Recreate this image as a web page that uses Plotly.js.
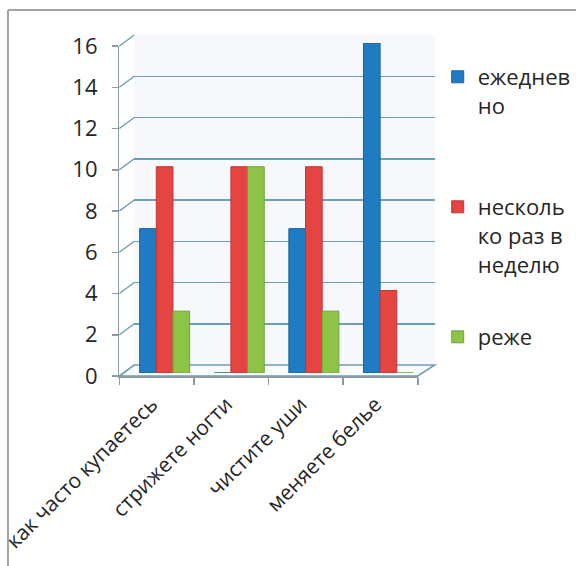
<!DOCTYPE html>
<html>
<head>
<meta charset="utf-8">
<script src="https://cdn.plot.ly/plotly-3.0.1.min.js"></script>
<style>html,body{margin:0;padding:0;background:#fff;}#chart{width:576px;height:566px;}</style>
</head>
<body>
<div id="chart"></div>
<script>
// ---- data ----
const categories = ['как часто купаетесь', 'стрижете ногти', 'чистите уши', 'меняете белье'];
const daily = [7, 0, 7, 16];
const weekly = [10, 10, 10, 4];
const rarely = [3, 10, 3, 0];
const seriesNames = ['ежеднев<br>но', 'несколь<br>ко раз в<br>неделю', 'реже'];
const yTicks = [0, 2, 4, 6, 8, 10, 12, 14, 16];

// ---- layout helpers (pixel -> paper) ----
const W = 576, H = 566;
const fx = p => p / W;
const fy = p => 1 - p / H;
const yMax = yTicks[yTicks.length - 1];

const frontX = [fx(120), fx(420)];
const frontY = [fy(376), fy(46)];
const backX = [fx(135), fx(437)];
const backY = [fy(365), fy(35)];
const barX = [fx(128), fx(428)];
const barY = [fy(373), fy(43)];

const gridColor = '#6f9db2';
const font = 'Open Sans, Noto Sans, sans-serif';
const colors = ['#1f7cc2', '#e44543', '#8dc347'];

const traces = [
  // back wall (grid only)
  {type: 'scatter', x: [], y: [], xaxis: 'x', yaxis: 'y', showlegend: false, hoverinfo: 'skip'},
  // front axes
  {type: 'scatter', x: [], y: [], xaxis: 'x2', yaxis: 'y2', showlegend: false, hoverinfo: 'skip'},
  // bars
  {type: 'bar', x: categories, y: daily, name: seriesNames[0], xaxis: 'x3', yaxis: 'y3', legend: 'legend',
   marker: {color: colors[0], line: {color: '#17659f', width: 1}}},
  {type: 'bar', x: categories, y: weekly, name: seriesNames[1], xaxis: 'x3', yaxis: 'y3', legend: 'legend2',
   marker: {color: colors[1], line: {color: '#c23533', width: 1}}},
  {type: 'bar', x: categories, y: rarely, name: seriesNames[2], xaxis: 'x3', yaxis: 'y3', legend: 'legend3',
   marker: {color: colors[2], line: {color: '#6fa535', width: 1}}}
];

const shapes = [];
// back wall
shapes.push({type: 'rect', xref: 'paper', yref: 'paper', x0: backX[0], x1: backX[1], y0: backY[0], y1: backY[1],
  fillcolor: '#f6f8fb', line: {width: 0}, layer: 'below'});
// floor
shapes.push({type: 'path', xref: 'paper', yref: 'paper',
  path: `M${frontX[0]},${frontY[0]} L${frontX[1]},${frontY[0]} L${backX[1]},${backY[0]} L${backX[0]},${backY[0]} Z`,
  fillcolor: '#fafbfc', line: {color: gridColor, width: 1.5}, layer: 'below'});
// diagonal connectors from front axis ticks to back wall gridlines
yTicks.forEach(v => {
  const yf = frontY[0] + v / yMax * (frontY[1] - frontY[0]);
  const yb = backY[0] + v / yMax * (backY[1] - backY[0]);
  shapes.push({type: 'line', xref: 'paper', yref: 'paper', x0: frontX[0], y0: yf, x1: backX[0], y1: yb,
    line: {color: gridColor, width: 1.5}, layer: 'below'});
});
// outer frame (top & left)
shapes.push({type: 'line', xref: 'paper', yref: 'paper', x0: fx(8), y0: fy(10), x1: 1.01, y1: fy(10), line: {color: '#a3a3a3', width: 2}});
shapes.push({type: 'line', xref: 'paper', yref: 'paper', x0: fx(8), y0: fy(10), x1: fx(8), y1: -0.01, line: {color: '#a3a3a3', width: 2}});

const legendBase = {xanchor: 'left', yanchor: 'top', valign: 'top', bgcolor: 'rgba(0,0,0,0)',
  font: {family: font, size: 22, color: '#262626'}};

const layout = {
  width: W, height: H,
  margin: {l: 0, r: 0, t: 0, b: 0},
  paper_bgcolor: '#ffffff', plot_bgcolor: 'rgba(0,0,0,0)',
  font: {family: font, color: '#262626'},
  barmode: 'group', bargap: 0.33, bargroupgap: 0,
  showlegend: true,
  xaxis: {domain: backX, anchor: 'y', range: [0, 1], visible: false, fixedrange: true},
  yaxis: {domain: backY, anchor: 'x', range: [0, yMax], tickvals: yTicks, showgrid: true, gridcolor: gridColor, gridwidth: 1.5,
    zeroline: false, showticklabels: false, ticks: '', showline: false, fixedrange: true},
  xaxis2: {domain: frontX, anchor: 'y2', range: [0, categories.length], tickvals: categories.map((_, i) => i).concat(categories.length),
    showticklabels: false, ticks: 'outside', ticklen: 7, tickcolor: '#8c9aa3', tickwidth: 1.5,
    showline: true, linecolor: '#8c9aa3', linewidth: 1.5, showgrid: false, zeroline: false, fixedrange: true},
  yaxis2: {domain: frontY, anchor: 'x2', range: [0, yMax], tickvals: yTicks, ticks: 'outside', ticklen: 6, tickcolor: '#8c9aa3', tickwidth: 1.5,
    showline: true, linecolor: '#8c9aa3', linewidth: 1.5, showgrid: false, zeroline: false,
    tickfont: {family: font, size: 22, color: '#262626'}, ticklabelstandoff: 10, fixedrange: true},
  xaxis3: {domain: barX, anchor: 'y3', type: 'category', categoryarray: categories, range: [-0.5, categories.length - 0.5],
    tickangle: -45, ticks: '', showline: false, showgrid: false, zeroline: false,
    ticklabelshift: -13, ticklabelstandoff: 14,
    tickfont: {family: font, size: 21, color: '#262626'}, fixedrange: true},
  yaxis3: {domain: barY, anchor: 'x3', range: [0, yMax], visible: false, fixedrange: true},
  legend: Object.assign({x: fx(440), y: fy(56)}, legendBase),
  legend2: Object.assign({x: fx(440), y: fy(186)}, legendBase),
  legend3: Object.assign({x: fx(440), y: fy(316)}, legendBase),
  shapes: shapes
};

Plotly.newPlot('chart', traces, layout, {displayModeBar: false, staticPlot: true});
</script>
</body>
</html>
